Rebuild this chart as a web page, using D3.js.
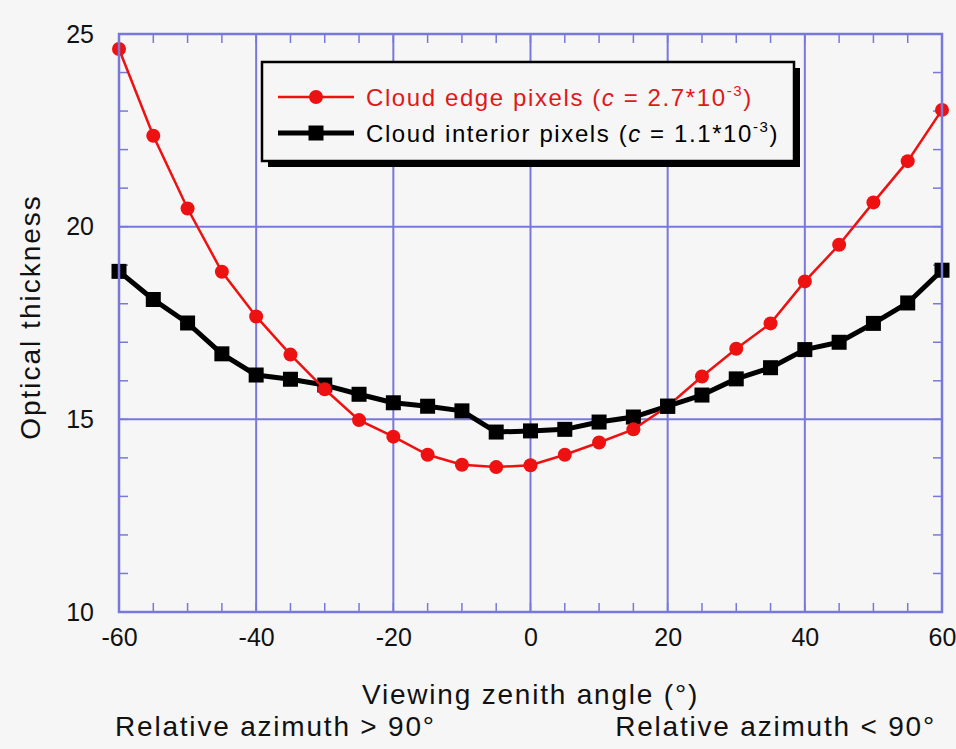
<!DOCTYPE html>
<html>
<head>
<meta charset="utf-8">
<script src="https://cdn.jsdelivr.net/npm/d3@7"></script>
<style>
  body { margin: 0; background: #f6f6f6; }
  svg { display: block; }
  text { font-family: "Liberation Sans", Arial, sans-serif; fill: #111; }
</style>
</head>
<body>
<svg id="chart"></svg>
<script>
var angles = [-60, -55, -50, -45, -40, -35, -30, -25, -20, -15, -10, -5, 0,
              5, 10, 15, 20, 25, 30, 35, 40, 45, 50, 55, 60];
var edgeValues = [24.61, 22.36, 20.47, 18.83, 17.67, 16.68, 15.78, 14.98, 14.55, 14.08, 13.82, 13.76, 13.81,
                  14.08, 14.40, 14.74, 15.34, 16.11, 16.83, 17.49, 18.58, 19.53, 20.63, 21.70, 23.03];
var interiorValues = [18.84, 18.11, 17.50, 16.70, 16.15, 16.04, 15.89, 15.65, 15.43, 15.34, 15.22, 14.67, 14.70,
                      14.74, 14.93, 15.06, 15.34, 15.63, 16.05, 16.34, 16.81, 17.00, 17.49, 18.02, 18.87];
var xTicks = [-60, -40, -20, 0, 20, 40, 60];
var yTicks = [10, 15, 20, 25];
var legendLabels = ["Cloud edge pixels (", "Cloud interior pixels ("];
var legendC = ["2.7*10", "1.1*10"];

var width = 956, height = 749;
var margin = {top: 34, right: 14, bottom: 137, left: 119};
var innerW = width - margin.left - margin.right,
    innerH = height - margin.top - margin.bottom;
var gridColor = "#7878dc";

var svg = d3.select("#chart").attr("width", width).attr("height", height);
var g = svg.append("g").attr("transform", "translate(" + margin.left + "," + margin.top + ")");

var x = d3.scaleLinear().domain([-60, 60]).range([0, innerW]);
var y = d3.scaleLinear().domain([10, 25]).range([innerH, 0]);

// grid
g.selectAll(".vgrid").data(xTicks).enter().append("line")
  .attr("x1", function(d){ return x(d); }).attr("x2", function(d){ return x(d); })
  .attr("y1", 0).attr("y2", innerH)
  .attr("stroke", gridColor).attr("stroke-width", 2);
g.selectAll(".hgrid").data(yTicks).enter().append("line")
  .attr("y1", function(d){ return y(d); }).attr("y2", function(d){ return y(d); })
  .attr("x1", 0).attr("x2", innerW)
  .attr("stroke", gridColor).attr("stroke-width", 2);

// minor ticks, inward on all four sides
var xMinor = d3.range(-60, 61, 5), yMinor = d3.range(10, 26, 1);
[innerH, 0].forEach(function(yy, i) {
  g.selectAll(".xm" + i).data(xMinor).enter().append("line")
    .attr("x1", function(d){ return x(d); }).attr("x2", function(d){ return x(d); })
    .attr("y1", yy).attr("y2", i === 0 ? yy - 9 : yy + 9)
    .attr("stroke", gridColor).attr("stroke-width", 1.5);
});
[0, innerW].forEach(function(xx, i) {
  g.selectAll(".ym" + i).data(yMinor).enter().append("line")
    .attr("y1", function(d){ return y(d); }).attr("y2", function(d){ return y(d); })
    .attr("x1", xx).attr("x2", i === 0 ? xx + 9 : xx - 9)
    .attr("stroke", gridColor).attr("stroke-width", 1.5);
});

// tick labels via axes (plain hyphen minus like the original)
var fmt = function(d){ return String(d); };
var xAxis = g.append("g").attr("transform", "translate(0," + innerH + ")")
  .call(d3.axisBottom(x).tickValues(xTicks).tickFormat(fmt).tickSize(0).tickPadding(16));
var yAxis = g.append("g")
  .call(d3.axisLeft(y).tickValues(yTicks).tickFormat(fmt).tickSize(0).tickPadding(25));
[xAxis, yAxis].forEach(function(a) {
  a.select(".domain").remove();
  a.selectAll("text").style("font-size", "25px").attr("fill", "#111");
});

// lines
var line = function(vals) {
  return d3.line().x(function(d, i){ return x(angles[i]); }).y(function(d){ return y(d); })(vals);
};
g.append("path").attr("d", line(interiorValues))
  .attr("fill", "none").attr("stroke", "#000").attr("stroke-width", 5).attr("stroke-linejoin", "round");
g.selectAll(".sq").data(interiorValues).enter().append("rect")
  .attr("x", function(d, i){ return x(angles[i]) - 7.5; })
  .attr("y", function(d){ return y(d) - 7.5; })
  .attr("width", 15).attr("height", 15).attr("fill", "#000");

g.append("path").attr("d", line(edgeValues))
  .attr("fill", "none").attr("stroke", "#ee1111").attr("stroke-width", 2.5);
g.selectAll(".dot").data(edgeValues).enter().append("circle")
  .attr("cx", function(d, i){ return x(angles[i]); })
  .attr("cy", function(d){ return y(d); })
  .attr("r", 7).attr("fill", "#ee1111");

// interior marker at 20 sits on top of the red one in the original
g.append("rect")
  .attr("x", x(angles[16]) - 7.5).attr("y", y(interiorValues[16]) - 7.5)
  .attr("width", 15).attr("height", 15).attr("fill", "#000");

// frame
g.append("rect").attr("width", innerW).attr("height", innerH)
  .attr("fill", "none").attr("stroke", gridColor).attr("stroke-width", 2.5);

// legend
var lg = svg.append("g").attr("transform", "translate(262,62)");
lg.append("rect").attr("x", 6).attr("y", 6).attr("width", 532).attr("height", 99).attr("fill", "#000");
lg.append("rect").attr("x", 0).attr("y", 0).attr("width", 532).attr("height", 99)
  .attr("fill", "#f6f6f6").attr("stroke", "#000").attr("stroke-width", 2.5);
var colors = ["#e01818", "#000"];
[0, 1].forEach(function(i) {
  var yy = 35 + i * 36;
  lg.append("line").attr("x1", 16).attr("x2", 92).attr("y1", yy).attr("y2", yy)
    .attr("stroke", i === 0 ? "#ee1111" : "#000").attr("stroke-width", i === 0 ? 2.5 : 5);
  if (i === 0) {
    lg.append("circle").attr("cx", 54).attr("cy", yy).attr("r", 7).attr("fill", "#ee1111");
  } else {
    lg.append("rect").attr("x", 46.5).attr("y", yy - 7.5).attr("width", 15).attr("height", 15).attr("fill", "#000");
  }
  var t = lg.append("text").attr("x", 104).attr("y", yy + 9).style("font-size", "24px")
    .style("letter-spacing", "1.6px").style("fill", colors[i]);
  t.append("tspan").text(legendLabels[i]);
  t.append("tspan").style("font-style", "italic").text("c");
  t.append("tspan").text(" = " + legendC[i]);
  t.append("tspan").attr("dy", -10).style("font-size", "15px").text("-3");
  t.append("tspan").attr("dy", 10).text(")");
});

// axis titles
svg.append("text").attr("text-anchor", "middle")
  .attr("transform", "translate(40," + (margin.top + innerH / 2 - 6) + ")rotate(-90)")
  .style("font-size", "28px").style("letter-spacing", "2px").text("Optical thickness");
svg.append("text").attr("text-anchor", "middle")
  .attr("x", margin.left + innerW / 2).attr("y", 704)
  .style("font-size", "28px").style("letter-spacing", "1.8px").text("Viewing zenith angle (°)");
svg.append("text").attr("text-anchor", "start")
  .attr("x", 115).attr("y", 736)
  .style("font-size", "28px").style("letter-spacing", "1.8px").text("Relative azimuth > 90°");
svg.append("text").attr("text-anchor", "end")
  .attr("x", 936).attr("y", 736)
  .style("font-size", "28px").style("letter-spacing", "1.8px").text("Relative azimuth < 90°");
</script>
</body>
</html>
